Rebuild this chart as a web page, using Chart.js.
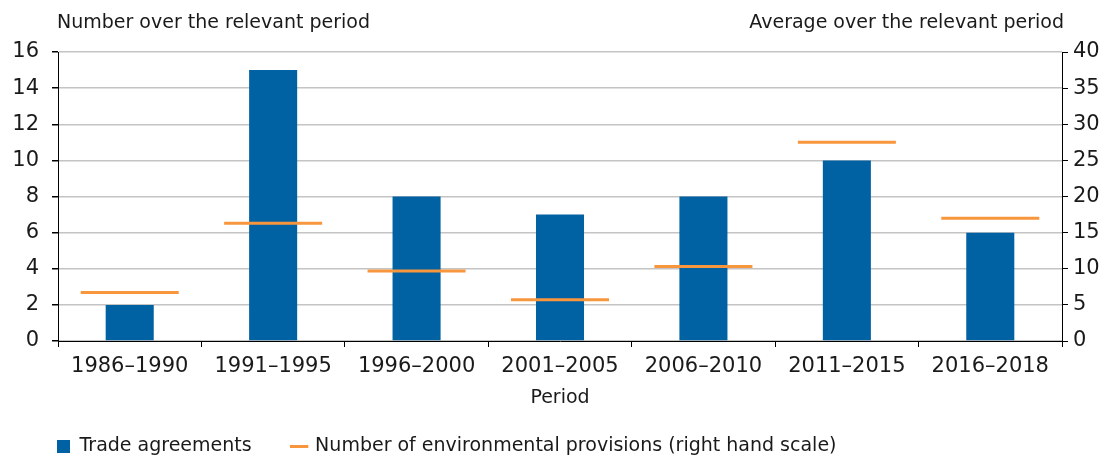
<!DOCTYPE html>
<html>
<head>
<meta charset="utf-8">
<script src="https://cdn.jsdelivr.net/npm/chart.js@4/dist/chart.umd.min.js"></script>
<style>
  html, body { margin: 0; padding: 0; background: #fff; }
  #wrap { width: 1114px; height: 455px; position: relative; }
</style>
</head>
<body>
<div id="wrap"><canvas id="c"></canvas></div>
<script>
// Periods on the x axis
const periods = ['1986–1990', '1991–1995', '1996–2000', '2001–2005', '2006–2010', '2011–2015', '2016–2018'];
// Number of trade agreements signed in each period (left axis)
const tradeAgreements = [2, 15, 8, 7, 8, 10, 6];
// Average number of environmental provisions per agreement (right axis)
const envProvisions = [6.7, 16.3, 9.7, 5.7, 10.3, 27.5, 17.0];

const leftAxisTitle = 'Number over the relevant period';
const rightAxisTitle = 'Average over the relevant period';
const xAxisTitle = 'Period';
const seriesNames = ['Trade agreements', 'Number of environmental provisions (right hand scale)'];

const BLUE = '#0061a3';
const ORANGE = '#f7963c';
const GRID = '#c4c4c4';
const TEXT = '#1a1a1a';
const FONT = "'DejaVu Sans', sans-serif";
const LEGEND_PAD = 41;

// Axis captions above each y axis
const topCaptions = {
  id: 'topCaptions',
  afterDraw(chart) {
    const { ctx, chartArea } = chart;
    ctx.save();
    ctx.fillStyle = TEXT;
    ctx.font = '19px ' + FONT;
    ctx.textBaseline = 'middle';
    ctx.textAlign = 'left';
    ctx.fillText(leftAxisTitle, chartArea.left - 1, 23);
    ctx.textAlign = 'right';
    ctx.fillText(rightAxisTitle, chartArea.right + 2, 23);
    ctx.restore();
  }
};

// Place the legend row under the axis title, aligned with the plot's left edge
const legendPlacement = {
  id: 'legendPlacement',
  afterLayout(chart) {
    const lg = chart.legend;
    if (!lg) return;
    lg.left = 57 - LEGEND_PAD;
    lg.top = 447 - LEGEND_PAD - 10;
  }
};

new Chart(document.getElementById('c'), {
  type: 'bar',
  data: {
    labels: periods,
    datasets: [
      {
        type: 'line',
        label: seriesNames[1],
        data: envProvisions,
        yAxisID: 'y1',
        showLine: false,
        pointStyle: 'line',
        pointRadius: 49,
        pointHoverRadius: 49,
        pointBorderWidth: 3,
        pointBorderColor: ORANGE,
        pointBackgroundColor: ORANGE,
        borderColor: ORANGE,
        backgroundColor: ORANGE,
        order: 1
      },
      {
        type: 'bar',
        label: seriesNames[0],
        data: tradeAgreements,
        yAxisID: 'y',
        backgroundColor: BLUE,
        borderWidth: 0,
        categoryPercentage: 1,
        barPercentage: 0.335,
        order: 2
      }
    ]
  },
  options: {
    responsive: true,
    maintainAspectRatio: false,
    animation: false,
    layout: { padding: { top: 44, right: 0, left: 0, bottom: 0 } },
    plugins: {
      tooltip: { enabled: false },
      legend: {
        position: 'bottom',
        align: 'start',
        maxHeight: 30,
        labels: {
          usePointStyle: true,
          boxWidth: 13,
          boxHeight: 13,
          padding: LEGEND_PAD,
          color: TEXT,
          font: { family: FONT, size: 19 },
          generateLabels() {
            return [
              { text: seriesNames[0], fillStyle: BLUE, strokeStyle: BLUE, lineWidth: 0, pointStyle: 'rect', datasetIndex: 1, fontColor: TEXT },
              { text: seriesNames[1], fillStyle: ORANGE, strokeStyle: ORANGE, lineWidth: 3, pointStyle: 'line', datasetIndex: 0, fontColor: TEXT }
            ];
          }
        }
      }
    },
    scales: {
      x: {
        offset: true,
        grid: { offset: true, drawOnChartArea: false, drawTicks: true, tickLength: 6, tickColor: '#000' },
        border: { color: '#000', width: 1 },
        ticks: { color: TEXT, font: { family: FONT, size: 21 }, padding: 7, maxRotation: 0, autoSkip: false },
        title: { display: true, text: xAxisTitle, color: TEXT, font: { family: FONT, size: 19 }, padding: { top: 4, bottom: 16 } },
        afterFit(scale) { scale.height = 84; }
      },
      y: {
        position: 'left',
        min: 0,
        max: 16,
        ticks: { stepSize: 2, color: TEXT, font: { family: FONT, size: 21 }, padding: 13 },
        grid: { color: GRID, lineWidth: 1.5, tickLength: 6, tickColor: '#000' },
        border: { color: '#000', width: 1 },
        afterFit(scale) { scale.width = 58; }
      },
      y1: {
        position: 'right',
        min: 0,
        max: 40,
        ticks: { stepSize: 5, color: TEXT, font: { family: FONT, size: 21 }, padding: 5 },
        grid: { drawOnChartArea: false, tickLength: 6, tickColor: '#000' },
        border: { color: '#000', width: 1 },
        afterFit(scale) { scale.width = 49; }
      }
    }
  },
  plugins: [topCaptions, legendPlacement]
});
</script>
</body>
</html>
